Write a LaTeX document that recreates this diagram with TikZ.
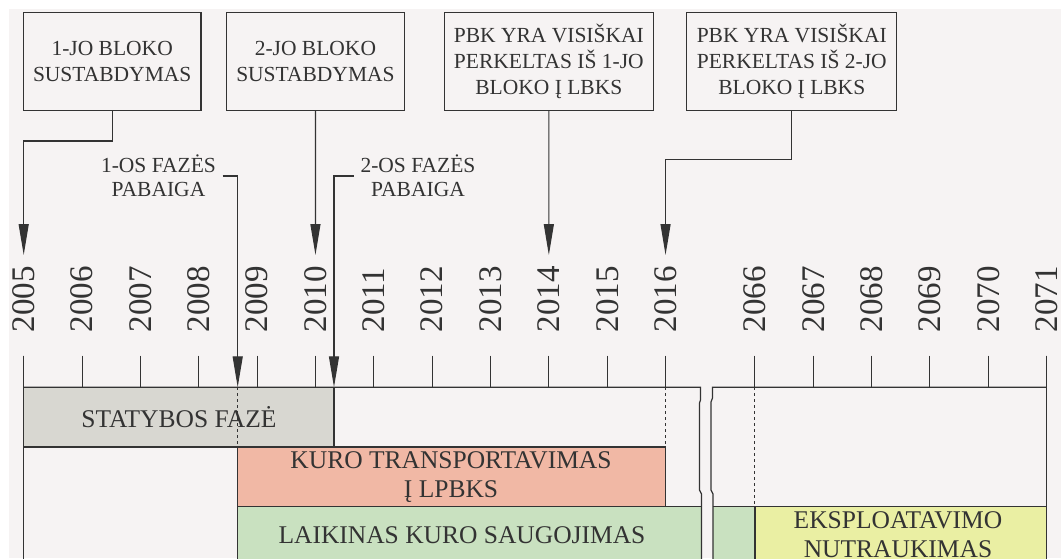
\documentclass[tikz,border=0pt]{standalone}
\usepackage{fontspec}
\setmainfont{Liberation Serif}
\usetikzlibrary{arrows.meta}
\definecolor{fonas}{HTML}{F6F3F3}
\definecolor{linija}{HTML}{333333}
\definecolor{pilka}{HTML}{D8D7D1}
\definecolor{raudona}{HTML}{F1B8A5}
\definecolor{zalia}{HTML}{C9E1C0}
\definecolor{geltona}{HTML}{EAEFA3}
\tikzset{
  blokas/.style={draw=linija, fill=fonas, align=center, minimum height=98pt,
    inner sep=2pt, font=\fontsize{21.5}{26}\selectfont},
  faze/.style={align=center, inner ysep=2pt, inner xsep=6pt,
    font=\fontsize{21.5}{24}\selectfont},
  tekstas/.style={align=center, font=\fontsize{25.5}{29}\selectfont},
  metai/.style={rotate=90, anchor=west, inner sep=0pt,
    font=\fontsize{33}{33}\selectfont},
}
\begin{document}
\begin{tikzpicture}[>={Triangle[length=31pt,width=10pt]},x=1pt,y=-1pt,
    line width=1.2pt,color=linija]
      \fill[white] (0,0) rectangle (1061,558);
      \useasboundingbox (0,0) rectangle (1061,558);
      \fill[fonas] (8.5,8.5) rectangle (1061,558);
      %
      \fill[zalia] (237.7,506.6) rectangle (700.5,565);
      \fill[zalia] (712.5,506.6) rectangle (754.9,565);
      \draw[fill=geltona] (754.9,506.6) rectangle (1046.65,565);
      \draw[fill=raudona] (237.7,447) rectangle (665.5,506.6);
      \draw[fill=pilka] (23.7,387.3) rectangle (334,447);
      \draw (237.7,506.6) -- (237.7,565);
      \draw (665.5,506.6) -- (700.5,506.6);
      \draw (712.5,506.6) -- (754.9,506.6);
      %
      \draw (23.7,355.5) -- (23.7,565);
      \draw (1046.65,355.5) -- (1046.65,565);
      \draw (23.7,387.3) -- (700.5,387.3)
        -- (700.5,400) -- (699.5,403) -- (699.5,490) -- (701.5,494) -- (701.5,565);
      \draw (1046.65,387.3) -- (712.5,387.3)
        -- (712.5,398) -- (711,402) -- (711,490) -- (713,494) -- (713,565);
      %
      \foreach \m [count=\i from 0] in {2005,...,2016} {
        \draw[line width=1pt] (23.7+58.35*\i,355.5) -- (23.7+58.35*\i,387.3);
        \node[metai] at (23.7+58.35*\i,333) {\m};
        \coordinate (a\m) at (23.7+58.35*\i,255);
      }
      \foreach \m [count=\i from 0] in {2066,...,2071} {
        \draw[line width=1pt] (754.9+58.35*\i,355.5) -- (754.9+58.35*\i,387.3);
        \node[metai] at (754.9+58.35*\i,333) {\m};
      }
      %
      \draw[dashed, line width=1pt] (237.7,387.3) -- (237.7,447);
      \draw[dashed, line width=1pt] (665.5,387.3) -- (665.5,447);
      \draw[dashed, line width=1pt] (754.9,387.3) -- (754.9,506.6);
      %
      \node[tekstas] (statyba) at (178.9,417) {STATYBOS FAZĖ};
      \node[tekstas] (transportas) at (451,477) {KURO TRANSPORTAVIMAS\\Į LPBKS};
      \node[tekstas] (saugojimas) at (462,535) {LAIKINAS KURO SAUGOJIMAS};
      \node[tekstas] (nutraukimas) at (898,535) {EKSPLOATAVIMO\\NUTRAUKIMAS};
      %
      \node[blokas, minimum width=177.7pt] (blokas1) at (112.2,61.5) {1-JO BLOKO\\SUSTABDYMAS};
      \node[blokas, minimum width=178.5pt] (blokas2) at (315.45,61.5) {2-JO BLOKO\\SUSTABDYMAS};
      \node[blokas, minimum width=209.5pt] (pbk1) at (548.85,61.5) {PBK YRA VISIŠKAI\\PERKELTAS IŠ 1-JO\\BLOKO Į LBKS};
      \node[blokas, minimum width=210pt] (pbk2) at (791.75,61.5) {PBK YRA VISIŠKAI\\PERKELTAS IŠ 2-JO\\BLOKO Į LBKS};
      \draw[->] (blokas1.south) -- ++(0,29.8) -| (a2005);
      \draw[->] (blokas2.south) -- (a2010);
      \draw[->] (pbk1.south) -- (a2014);
      \draw[->] (pbk2.south) -- ++(0,48.5) -| (a2016);
      %
      \node[faze] (faze1) at (158.5,176) {1-OS FAZĖS\\PABAIGA};
      \node[faze] (faze2) at (418,176) {2-OS FAZĖS\\PABAIGA};
      \coordinate (pab1) at (237.7,387.3);
      \coordinate (pab2) at (334,387.3);
      \draw[->] (faze1.east) -| (pab1);
      \draw[->] (faze2.west) -| (pab2);
    \end{tikzpicture}
\end{document}
